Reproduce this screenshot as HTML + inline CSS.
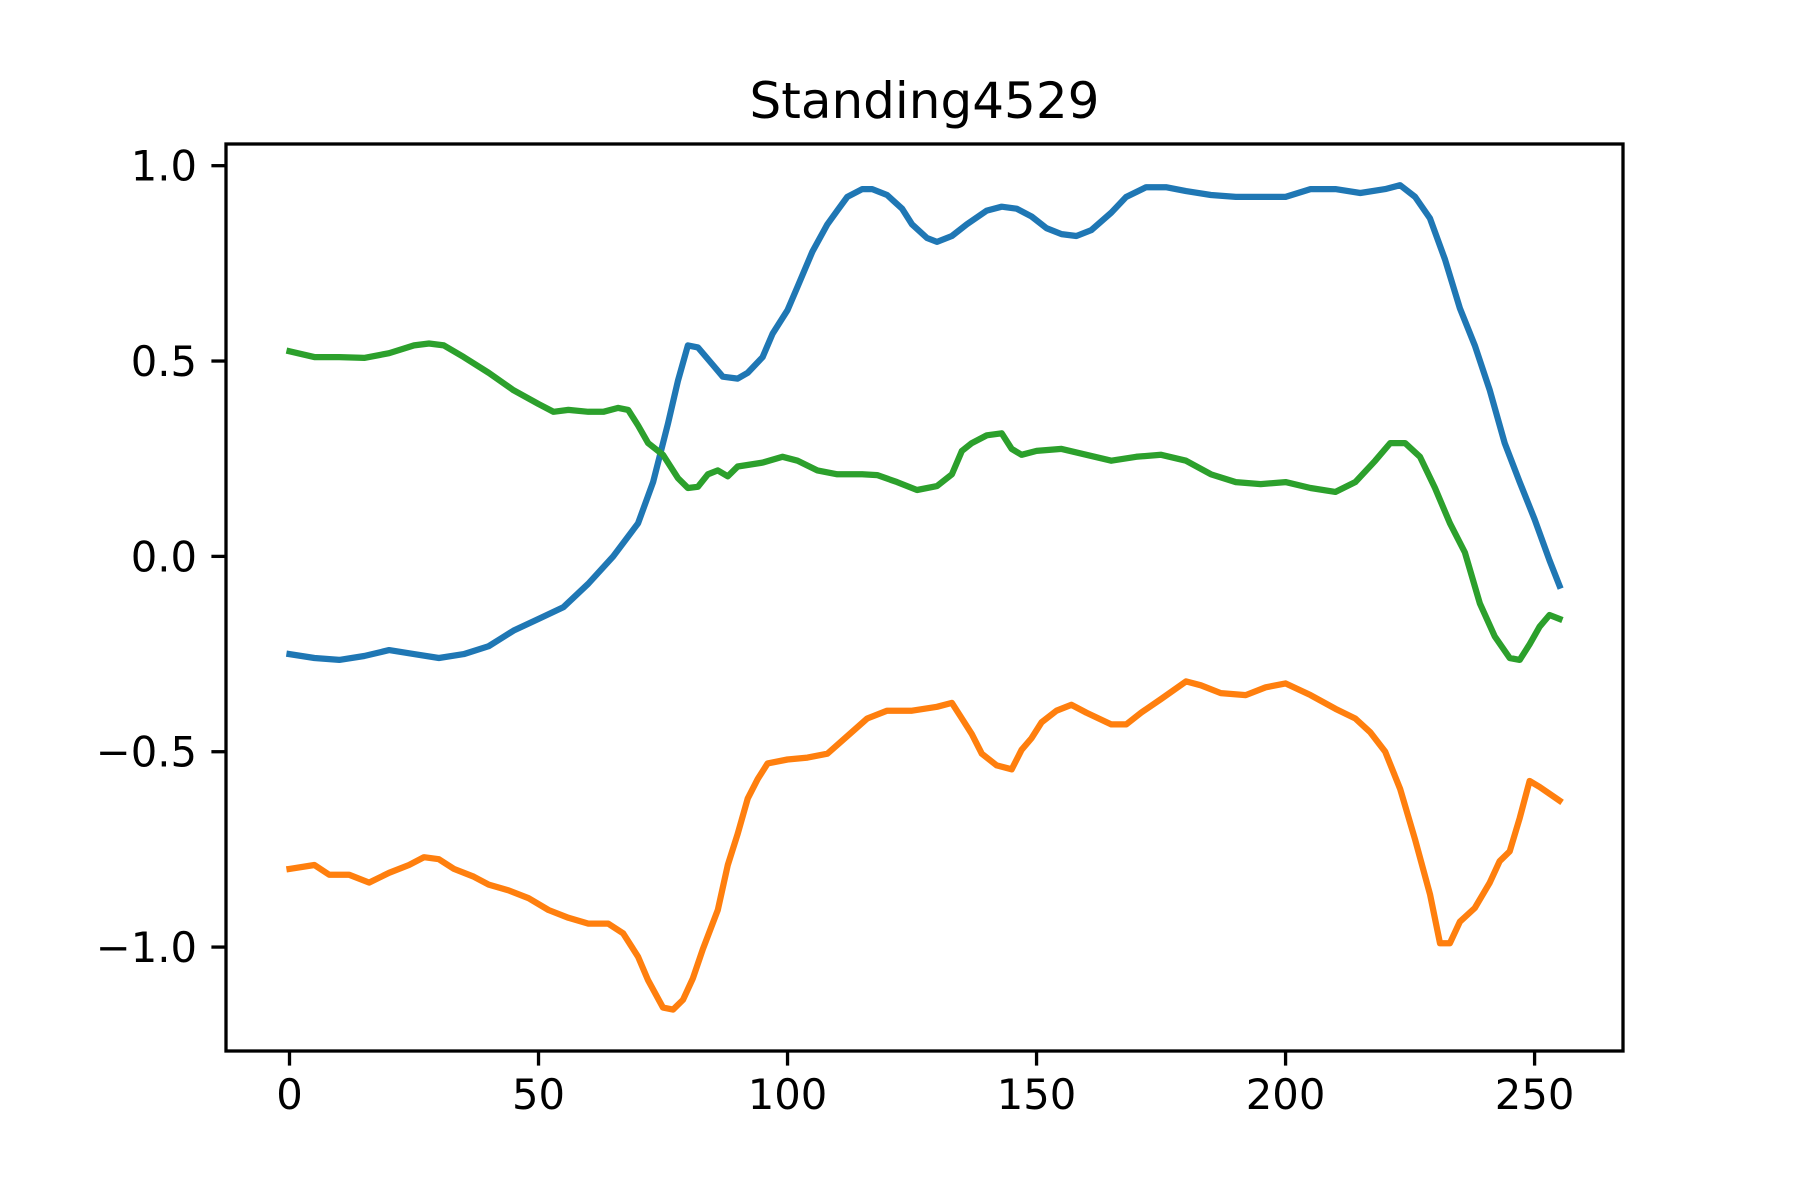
<!DOCTYPE html>
<html><head><meta charset="utf-8"><style>html,body{margin:0;padding:0;background:#fff}svg{display:block}</style></head>
<body>
<svg id="chart" width="1800" height="1200" xmlns="http://www.w3.org/2000/svg">
<rect width="1800" height="1200" fill="#fff"/>
</svg>
<script>
const xTicks=[0,50,100,150,200,250];
const yTicks=[-1.0,-0.5,0.0,0.5,1.0];
const yTickLabels=["\u22121.0","\u22120.5","0.0","0.5","1.0"];
const blueX=[0,5,10,15,20,25,30,35,40,45,50,55,60,65,70,73,76,78,80,82,85,87,90,92,95,97,100,102,105,108,110,112,115,117,120,123,125,128,130,133,136,140,143,146,149,152,155,158,161,165,168,172,176,180,185,190,195,200,205,210,215,220,223,226,229,232,235,238,241,244,247,250,253,255];
const blueY=[-0.25,-0.26,-0.265,-0.255,-0.24,-0.25,-0.26,-0.25,-0.23,-0.19,-0.16,-0.13,-0.07,0.0,0.085,0.19,0.34,0.45,0.54,0.535,0.49,0.46,0.455,0.47,0.51,0.57,0.63,0.69,0.78,0.85,0.885,0.92,0.94,0.94,0.925,0.89,0.85,0.815,0.805,0.82,0.85,0.885,0.895,0.89,0.87,0.84,0.825,0.82,0.835,0.88,0.92,0.945,0.945,0.935,0.925,0.92,0.92,0.92,0.94,0.94,0.93,0.94,0.95,0.92,0.865,0.76,0.635,0.54,0.425,0.29,0.19,0.095,-0.01,-0.075];
const orangeX=[0,5,8,12,16,20,24,27,30,33,37,40,44,48,52,56,60,64,67,70,72,75,77,79,81,83,86,88,90,92,94,96,100,104,108,112,116,120,125,130,133,135,137,139,142,145,147,149,151,154,157,160,165,168,171,175,180,183,187,192,196,200,205,210,214,217,220,223,226,229,231,233,235,238,241,243,245,247,249,251,255];
const orangeY=[-0.8,-0.79,-0.815,-0.815,-0.835,-0.81,-0.79,-0.77,-0.775,-0.8,-0.82,-0.84,-0.855,-0.875,-0.905,-0.925,-0.94,-0.94,-0.965,-1.025,-1.085,-1.155,-1.16,-1.135,-1.08,-1.005,-0.905,-0.79,-0.71,-0.62,-0.57,-0.53,-0.52,-0.515,-0.505,-0.46,-0.415,-0.395,-0.395,-0.385,-0.375,-0.415,-0.455,-0.505,-0.535,-0.545,-0.495,-0.465,-0.425,-0.395,-0.38,-0.4,-0.43,-0.43,-0.4,-0.365,-0.32,-0.33,-0.35,-0.355,-0.335,-0.325,-0.355,-0.39,-0.415,-0.45,-0.5,-0.595,-0.725,-0.865,-0.99,-0.99,-0.935,-0.9,-0.835,-0.78,-0.755,-0.67,-0.575,-0.59,-0.625];
const greenX=[0,5,10,15,20,25,28,31,35,40,45,50,53,56,60,63,66,68,70,72,75,78,80,82,84,86,88,90,95,99,102,106,110,115,118,122,126,130,133,135,137,140,143,145,147,150,155,160,165,170,175,180,185,190,195,200,205,210,214,218,221,224,227,230,233,236,239,242,245,247,249,251,253,255];
const greenY=[0.525,0.51,0.51,0.508,0.52,0.54,0.545,0.54,0.51,0.47,0.425,0.39,0.37,0.375,0.37,0.37,0.38,0.375,0.335,0.29,0.26,0.2,0.175,0.178,0.21,0.22,0.205,0.23,0.24,0.255,0.245,0.22,0.21,0.21,0.208,0.19,0.17,0.18,0.21,0.27,0.29,0.31,0.315,0.275,0.26,0.27,0.275,0.26,0.245,0.255,0.26,0.245,0.21,0.19,0.185,0.19,0.175,0.165,0.19,0.245,0.29,0.29,0.255,0.175,0.085,0.01,-0.12,-0.205,-0.26,-0.265,-0.225,-0.18,-0.15,-0.16];

const L=226,R=1623,T=144,B=1051;
const xmin=-12.75,xmax=267.75,ymin=-1.266,ymax=1.0555;
const sx=v=>L+(v-xmin)/(xmax-xmin)*(R-L);
const sy=v=>B-(v-ymin)/(ymax-ymin)*(B-T);
const svg=document.getElementById('chart');
const NS='http://www.w3.org/2000/svg';
function mk(tag,attrs){const e=document.createElementNS(NS,tag);for(const k in attrs)e.setAttribute(k,attrs[k]);svg.appendChild(e);return e;}
const font='"DejaVu Sans","Liberation Sans",sans-serif';

function series(xs,ys,color,name){
  const d=xs.map((x,i)=>(i?'L':'M')+sx(x).toFixed(1)+','+sy(ys[i]).toFixed(1)).join('');
  const p=mk('path',{d:d,fill:'none',stroke:color,'stroke-width':6.25,'stroke-linejoin':'round','stroke-linecap':'square'});
  
  
}
series(blueX,blueY,'#1f77b4','series-blue');
series(orangeX,orangeY,'#ff7f0e','series-orange');
series(greenX,greenY,'#2ca02c','series-green');

const frame=mk('rect',{x:L,y:T,width:R-L,height:B-T,fill:'none',stroke:'#000','stroke-width':3.3});



xTicks.forEach(v=>{
  const x=sx(v);
  const t=mk('line',{x1:x,x2:x,y1:B,y2:B+14.6,stroke:'#000','stroke-width':3.3});
  
  
  const tx=mk('text',{x:x,y:B+58,'text-anchor':'middle','font-size':41.7,'font-family':font,fill:'#000'});
  tx.textContent=String(v);
  
  
});
yTicks.forEach((v,i)=>{
  const y=sy(v);
  const t=mk('line',{x1:L-14.6,x2:L,y1:y,y2:y,stroke:'#000','stroke-width':3.3});
  
  
  const tx=mk('text',{x:L-29,y:y+15,'text-anchor':'end','font-size':41.7,'font-family':font,fill:'#000'});
  tx.textContent=yTickLabels[i];
  
  
});
const title=mk('text',{x:(L+R)/2,y:118,'text-anchor':'middle','font-size':50,'font-family':font,fill:'#000'});
title.textContent='Standing4529';


</script>
</body></html>
